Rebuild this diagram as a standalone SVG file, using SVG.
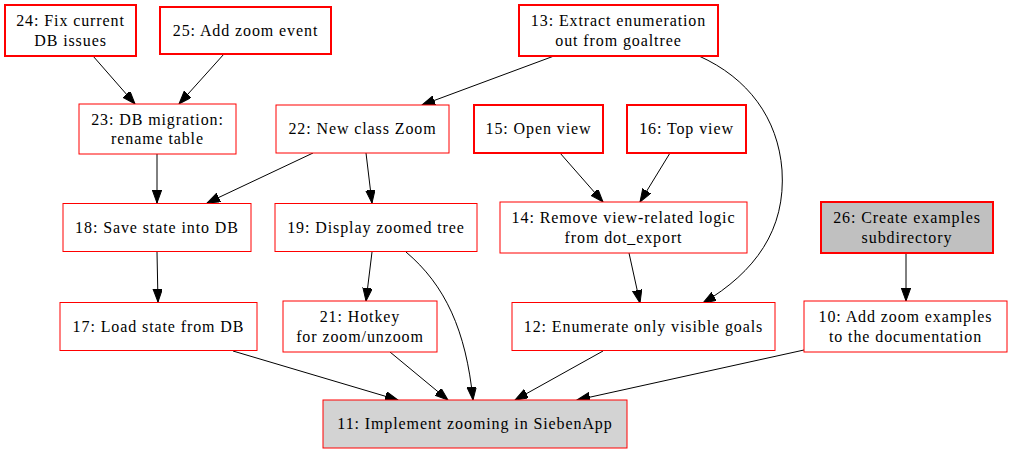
<svg xmlns="http://www.w3.org/2000/svg" width="1011" height="453" viewBox="0 0 1011 453">
<style>
  .n rect { fill: #ffffff; stroke: #ff0000; stroke-width: 1; }
  .n.b rect { stroke-width: 2; }
  .n.g rect { fill: #d3d3d3; }
  .n.s rect { fill: #c0c0c0; }
  .n text { font-family: "Liberation Serif", "Times New Roman", serif; font-size: 16px; letter-spacing: 0.9px; text-anchor: middle; fill: #000000; }
  .e path { fill: none; stroke: #000000; stroke-width: 1; marker-end: url(#arr); }
</style>
<defs>
  <marker id="arr" markerUnits="userSpaceOnUse" markerWidth="14" markerHeight="11" refX="13" refY="4.7" orient="auto">
    <path d="M0,0 L13,4.7 L0,9.4 z" fill="#000000" stroke="#000000" stroke-width="1"/>
  </marker>
</defs>
<rect width="1011" height="453" fill="#ffffff"/>

<g id="connectors" class="e">
  <path d="M93,56 L135,104"/>
  <path d="M224,54 L179,104"/>
  <path d="M554,56 L422,105"/>
  <path d="M699,56 C748,78 778,118 782,170 C786,230 755,272 703,303"/>
  <path d="M157,154 L157,203"/>
  <path d="M313,153 L207,203"/>
  <path d="M366,153 L372,203"/>
  <path d="M560,153 L603,202"/>
  <path d="M670,153 L640,202"/>
  <path d="M629,253 L640,303"/>
  <path d="M372,252 L366,301"/>
  <path d="M406,252 C445,285 466,330 473,400"/>
  <path d="M157,252 L158,302"/>
  <path d="M233,351 L398,400"/>
  <path d="M390,352 L448,400"/>
  <path d="M603,351 L515,400"/>
  <path d="M804,350 L577,400"/>
  <path d="M906,253 L906,301"/>
</g>

<g id="node24" class="n b">
  <rect x="5" y="5" width="131" height="51"/>
  <text x="70.5" y="26">24: Fix current</text>
  <text x="70.5" y="45.5">DB issues</text>
</g>
<g id="node25" class="n b">
  <rect x="160" y="7" width="171" height="47"/>
  <text x="245.5" y="35.5">25: Add zoom event</text>
</g>
<g id="node13" class="n b">
  <rect x="519" y="5" width="199" height="51"/>
  <text x="618.5" y="26">13: Extract enumeration</text>
  <text x="618.5" y="45.5">out from goaltree</text>
</g>
<g id="node23" class="n">
  <rect x="79" y="104" width="157" height="50"/>
  <text x="157.5" y="124.5">23: DB migration:</text>
  <text x="157.5" y="144">rename table</text>
</g>
<g id="node22" class="n">
  <rect x="276" y="105" width="173" height="48"/>
  <text x="362.5" y="134">22: New class Zoom</text>
</g>
<g id="node15" class="n b">
  <rect x="474" y="105" width="129" height="48"/>
  <text x="538.5" y="134">15: Open view</text>
</g>
<g id="node16" class="n b">
  <rect x="627" y="105" width="119" height="48"/>
  <text x="686.5" y="134">16: Top view</text>
</g>
<g id="node18" class="n">
  <rect x="63" y="203.5" width="188" height="48"/>
  <text x="157" y="232.5">18: Save state into DB</text>
</g>
<g id="node19" class="n">
  <rect x="275" y="203.5" width="202" height="48"/>
  <text x="376" y="232.5">19: Display zoomed tree</text>
</g>
<g id="node14" class="n">
  <rect x="500" y="202" width="247" height="51"/>
  <text x="623.5" y="223">14: Remove view-related logic</text>
  <text x="623.5" y="242.5">from dot_export</text>
</g>
<g id="node26" class="n b s">
  <rect x="821" y="202" width="172" height="51"/>
  <text x="907" y="223">26: Create examples</text>
  <text x="907" y="242.5">subdirectory</text>
</g>
<g id="node17" class="n">
  <rect x="60" y="302.5" width="197" height="48"/>
  <text x="158.5" y="331.5">17: Load state from DB</text>
</g>
<g id="node21" class="n">
  <rect x="283" y="301" width="154" height="51"/>
  <text x="360" y="322">21: Hotkey</text>
  <text x="360" y="341.5">for zoom/unzoom</text>
</g>
<g id="node12" class="n">
  <rect x="512" y="302.5" width="263" height="48"/>
  <text x="643.5" y="331.5">12: Enumerate only visible goals</text>
</g>
<g id="node10" class="n">
  <rect x="804" y="301" width="203" height="51"/>
  <text x="905.5" y="322">10: Add zoom examples</text>
  <text x="905.5" y="341.5">to the documentation</text>
</g>
<g id="node11" class="n g">
  <rect x="323" y="400" width="304" height="48"/>
  <text x="475" y="429">11: Implement zooming in SiebenApp</text>
</g>
</svg>
